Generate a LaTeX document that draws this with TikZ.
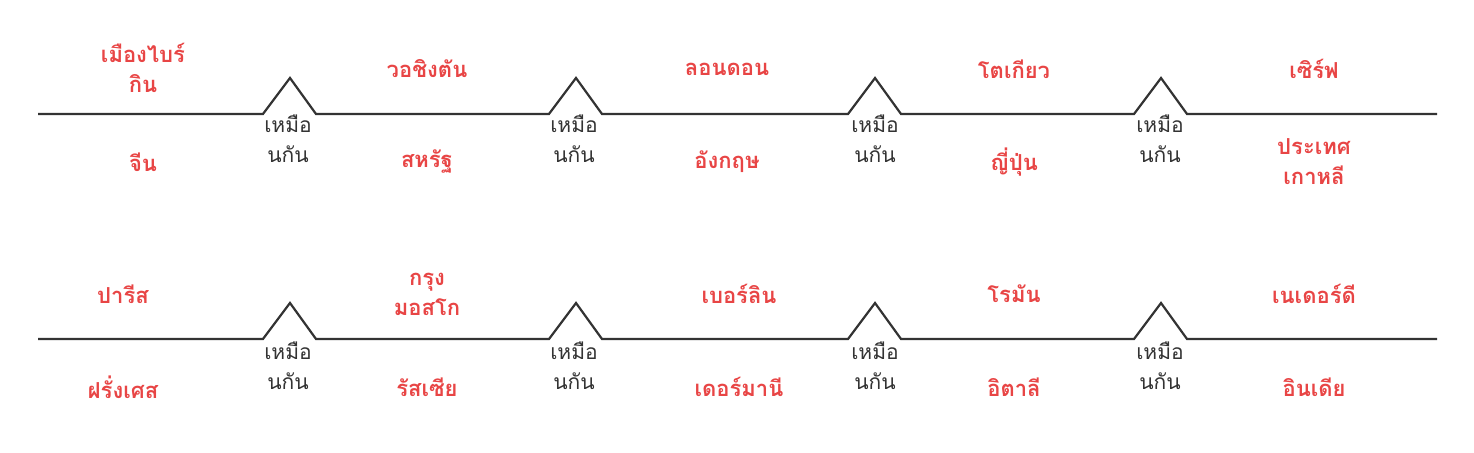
\documentclass[tikz,border=0pt]{standalone}
\usepackage{fontspec}
\newfontfamily\thaifont[Script=Thai]{Loma}
\begin{document}
\begin{tikzpicture}[x=0.5pt,y=-0.5pt,
  lab/.style={text=red!75!black!80!white,font=\thaifont\bfseries\fontsize{11}{15}\selectfont,align=center},
  same/.style={text=black!80,font=\thaifont\fontsize{10.5}{15}\selectfont,align=center},
  ln/.style={draw=black!80,line width=1.1pt}]
\definecolor{rd}{HTML}{E84545}
\tikzset{lab/.append style={text=rd}}
\useasboundingbox (0,0) rectangle (1474,453);
\foreach \y in {114,339}{
  \draw[ln] (38,\y) -- (263,\y) -- (290,\y-36) -- (316,\y) -- (549,\y) -- (576,\y-36) -- (602,\y) -- (848,\y) -- (875,\y-36) -- (901,\y) -- (1134,\y) -- (1161,\y-36) -- (1187,\y) -- (1437,\y);
}
\foreach \x/\n in {288/a,574/b,875/c,1160/d}{
  \node[same] (s1\n) at (\x,139) {เหมือ\\นกัน};
  \node[same] (s2\n) at (\x,366) {เหมือ\\นกัน};
}
\node[lab] (t1) at (143,68) {เมืองไบร์\\กิน};
\node[lab] (t2) at (427,69) {วอชิงตัน};
\node[lab] (t3) at (727,69) {ลอนดอน};
\node[lab] (t4) at (1014,69) {โตเกียว};
\node[lab] (t5) at (1314,69) {เซิร์ฟ};
\node[lab] (b1) at (143,162) {จีน};
\node[lab] (b2) at (427,162) {สหรัฐ};
\node[lab] (b3) at (727,162) {อังกฤษ};
\node[lab] (b4) at (1014,162) {ญี่ปุ่น};
\node[lab] (b5) at (1314,162) {ประเทศ\\เกาหลี};
\node[lab] (u1) at (123,294) {ปารีส};
\node[lab] (u2) at (427,294) {กรุง\\มอสโก};
\node[lab] (u3) at (739,294) {เบอร์ลิน};
\node[lab] (u4) at (1014,294) {โรมัน};
\node[lab] (u5) at (1314,294) {เนเดอร์ดี};
\node[lab] (v1) at (123,387) {ฝรั่งเศส};
\node[lab] (v2) at (427,387) {รัสเซีย};
\node[lab] (v3) at (739,387) {เดอร์มานี};
\node[lab] (v4) at (1014,387) {อิตาลี};
\node[lab] (v5) at (1314,387) {อินเดีย};
\end{tikzpicture}
\end{document}
